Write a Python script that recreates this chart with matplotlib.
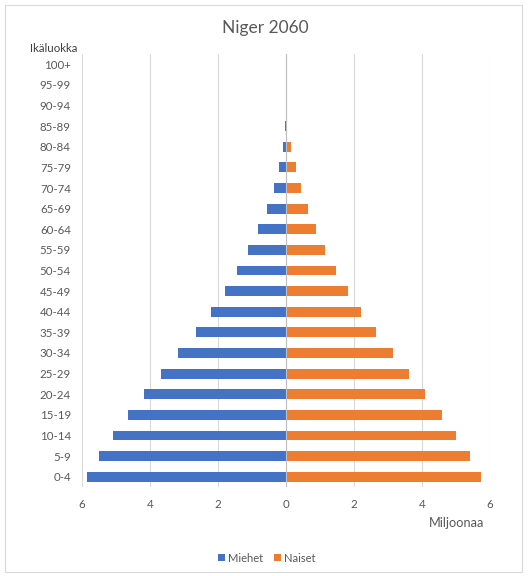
import matplotlib
matplotlib.use("Agg")
import matplotlib.pyplot as plt
from matplotlib.patches import Rectangle
from matplotlib.ticker import FuncFormatter, MultipleLocator

# Population of Niger in 2060 by age group, millions
age_groups = ["0-4", "5-9", "10-14", "15-19", "20-24", "25-29", "30-34", "35-39",
              "40-44", "45-49", "50-54", "55-59", "60-64", "65-69", "70-74", "75-79",
              "80-84", "85-89", "90-94", "95-99", "100+"]
men = [5.85, 5.49, 5.09, 4.64, 4.19, 3.67, 3.17, 2.66, 2.21, 1.79, 1.43, 1.11,
       0.82, 0.55, 0.36, 0.20, 0.08, 0.02, 0.004, 0.0005, 0.0]
women = [5.74, 5.41, 5.01, 4.58, 4.10, 3.62, 3.15, 2.66, 2.22, 1.81, 1.47, 1.16,
         0.87, 0.64, 0.44, 0.29, 0.15, 0.04, 0.01, 0.001, 0.0]
series_names = ["Miehet", "Naiset"]

BLUE = "#4472C4"
ORANGE = "#ED7D31"
TEXT = "#595959"
GRID = "#D9D9D9"

plt.rcParams["font.family"] = ["Lato", "DejaVu Sans"]

fig = plt.figure(figsize=(5.28, 5.76), dpi=100)
fig.patch.set_facecolor("white")
fig.patches.append(Rectangle((5 / 528, 4 / 576), 517 / 528, 567 / 576,
                             transform=fig.transFigure, fill=False,
                             edgecolor="#D9D9D9", linewidth=0.8))

ax = fig.add_axes([82 / 528, 1 - 487 / 576, 408 / 528, 433 / 576])
y = list(range(len(age_groups)))
ax.barh(y, [-v for v in men], height=0.48, color=BLUE, label=series_names[0], zorder=3)
ax.barh(y, women, height=0.48, color=ORANGE, label=series_names[1], zorder=3)

ax.set_xlim(-6, 6)
ax.set_ylim(-0.5, len(age_groups) - 0.5)
ax.xaxis.set_major_locator(MultipleLocator(2))
ax.xaxis.set_major_formatter(FuncFormatter(lambda v, p: f"{abs(v):g}"))
ax.grid(axis="x", color=GRID, linewidth=0.8, zorder=0)
ax.axvline(0, color="#BFBFBF", linewidth=0.8, zorder=4)

ax.set_yticks(y)
ax.set_yticklabels(age_groups)
for s in ax.spines.values():
    s.set_visible(False)
ax.tick_params(axis="both", length=0, labelsize=8.3, labelcolor=TEXT)
ax.tick_params(axis="x", pad=9)
ax.tick_params(axis="y", pad=8)

fig.text(265 / 528, 1 - 28 / 576, "Niger 2060", ha="center", va="center",
         fontsize=12.5, color=TEXT)
fig.text(54 / 528, 1 - 48 / 576, "Ikäluokka", ha="center", va="center",
         fontsize=8.3, color="#404040")
fig.text(457 / 528, 1 - 523 / 576, "Miljoonaa", ha="center", va="center",
         fontsize=9.2, color=TEXT)

fig.legend(loc="center", bbox_to_anchor=(267 / 528, 1 - 558 / 576), ncol=2,
           frameon=False, fontsize=8, labelcolor=TEXT, handlelength=0.6,
           handleheight=0.6, handletextpad=0.3, columnspacing=1.0)

fig.savefig("out.png", dpi=100)
